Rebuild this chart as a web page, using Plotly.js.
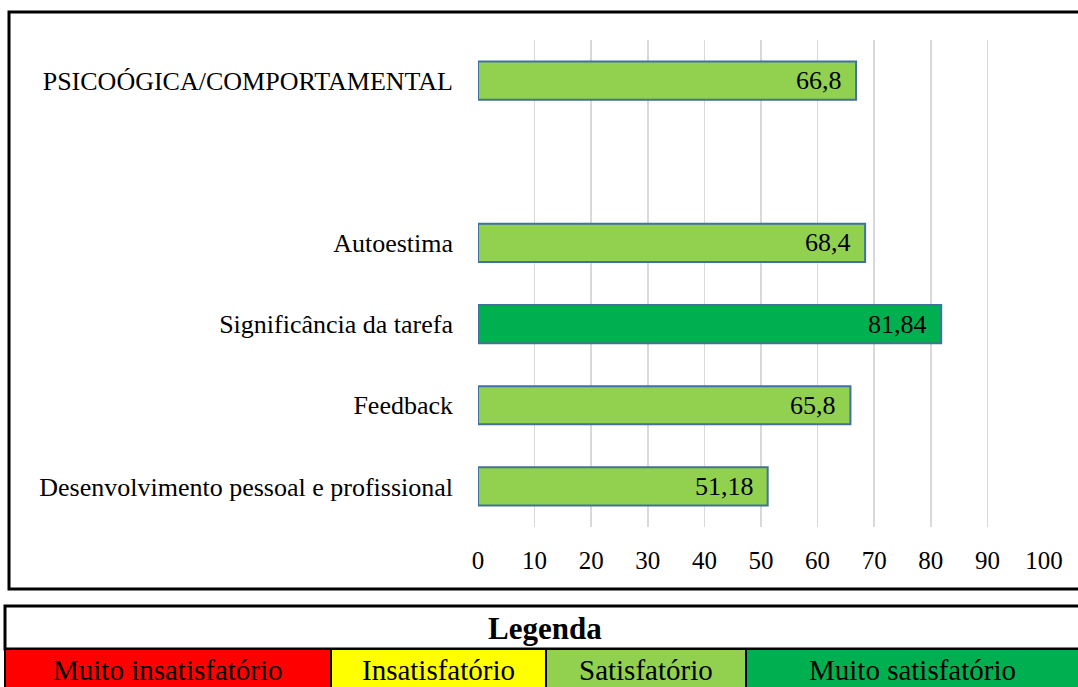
<!DOCTYPE html>
<html>
<head>
<meta charset="utf-8">
<script src="https://cdn.plot.ly/plotly-3.0.1.min.js"></script>
<style>html,body{margin:0;padding:0;background:#fff;}#chart{width:1078px;height:687px;}</style>
</head>
<body>
<div id="chart"></div>
<script>
// Data (bottom to top)
const categories = ["Desenvolvimento pessoal e profissional", "Feedback", "Significância da tarefa", "Autoestima", " ", "PSICOÓGICA/COMPORTAMENTAL"];
const values = [51.18, 65.8, 81.84, 68.4, null, 66.8];
const valueLabels = ["51,18", "65,8", "81,84", "68,4", "", "66,8"];
const barColors = ["#92D050", "#92D050", "#00B050", "#92D050", "#92D050", "#92D050"];
const xTicks = [0, 10, 20, 30, 40, 50, 60, 70, 80, 90, 100];
const legendTitle = "Legenda";
const legendLabels = ["Muito insatisfatório", "Insatisfatório", "Satisfatório", "Muito satisfatório"];
const legendColors = ["#FF0000", "#FFFF00", "#92D050", "#00B050"];

const W = 1078, H = 687;
const L = 478, R = 1044, T = 40, B = 527;
const px = x => (x - L) / (R - L);
const py = y => (B - y) / (B - T);
const FONT = "Liberation Serif, Times New Roman, serif";

const shapes = [];
const annotations = [];
// outer chart frame
shapes.push({type:'rect', xref:'paper', yref:'paper', x0:px(9), x1:px(1084), y0:py(589), y1:py(12), line:{color:'#000', width:3}, fillcolor:'rgba(0,0,0,0)'});
// legend box header
shapes.push({type:'rect', xref:'paper', yref:'paper', x0:px(5), x1:px(1084), y0:py(649), y1:py(606), line:{color:'#000', width:3}, fillcolor:'#fff'});
annotations.push({xref:'paper', yref:'paper', x:px(545), y:py(628), text:'<b>'+legendTitle+'</b>', showarrow:false, font:{family:FONT, size:31, color:'#000'}, xanchor:'center', yanchor:'middle'});
const colEdges = [5, 331, 546, 746, 1084];
for (let i = 0; i < legendLabels.length; i++) {
  shapes.push({type:'rect', xref:'paper', yref:'paper', x0:px(colEdges[i]), x1:px(colEdges[i+1]), y0:py(692), y1:py(649), line:{color:'#000', width:2}, fillcolor:legendColors[i]});
  annotations.push({xref:'paper', yref:'paper', x:px((colEdges[i] + Math.min(colEdges[i+1],1078))/2), y:py(670), text:legendLabels[i], showarrow:false, font:{family:FONT, size:29, color:'#000'}, xanchor:'center', yanchor:'middle'});
}
// value labels inside bars, right aligned
for (let i = 0; i < categories.length; i++) {
  if (values[i] === null) continue;
  annotations.push({xref:'x', yref:'y', x:values[i], y:categories[i], text:valueLabels[i], showarrow:false, xanchor:'right', yanchor:'middle', xshift:-12, font:{family:FONT, size:26, color:'#000'}});
}

const trace = {
  type:'bar', orientation:'h',
  y:categories, x:values,
  marker:{color:barColors, line:{color:'#41719C', width:2}},
  width:0.47, hoverinfo:'none'
};

const layout = {
  width:W, height:H,
  margin:{l:L, r:W-R, t:T, b:H-B, pad:0},
  paper_bgcolor:'#fff', plot_bgcolor:'#fff',
  showlegend:false,
  xaxis:{range:[0,100], tickvals:xTicks, ticktext:xTicks.map(String), showgrid:true, gridcolor:'#D9D9D9', gridwidth:1.5, zeroline:false, showline:false, ticks:'', ticklabelstandoff:16, tickfont:{family:FONT, size:25, color:'#000'}, fixedrange:true},
  yaxis:{type:'category', categoryorder:'array', categoryarray:categories, showgrid:false, zeroline:false, showline:false, ticks:'', ticklabelstandoff:24, tickfont:{family:FONT, size:26, color:'#000'}, range:[-0.5, 5.5], fixedrange:true},
  shapes:shapes, annotations:annotations,
  font:{family:FONT}
};

Plotly.newPlot('chart', [trace], layout, {displayModeBar:false, staticPlot:true});
</script>
</body>
</html>
